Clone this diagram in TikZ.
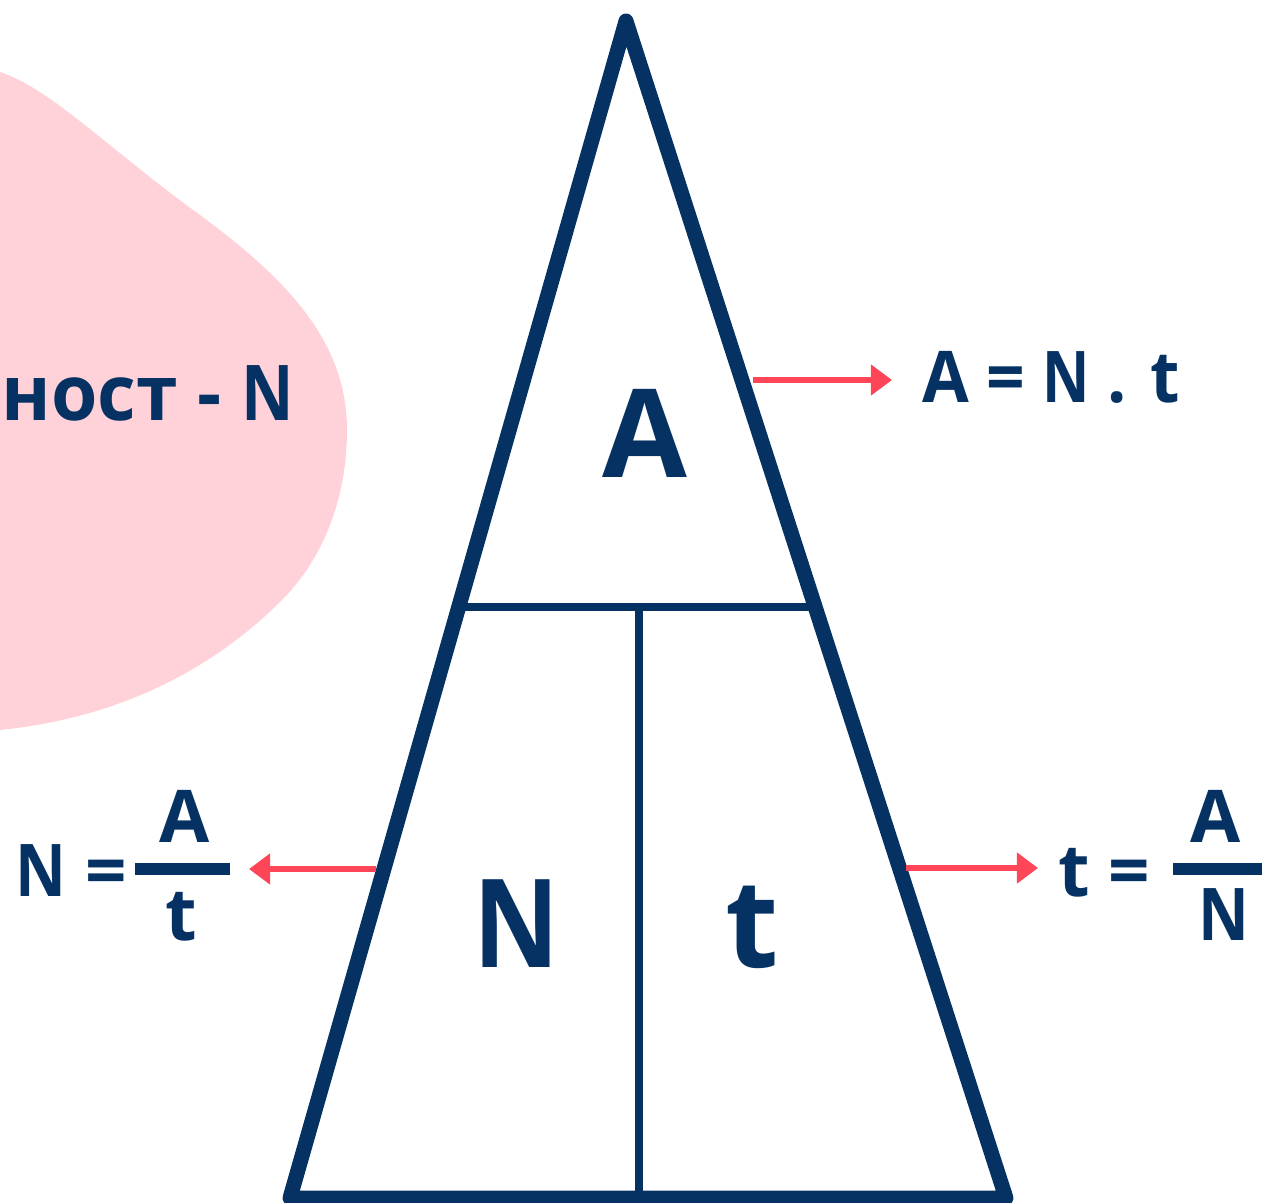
\documentclass[tikz,border=0pt]{standalone}
\usepackage{fontspec}
\usepackage{graphicx}
\setmainfont{Open Sans}[Language=Bulgarian]
\usetikzlibrary{arrows.meta}
\definecolor{navy}{HTML}{053263}
\definecolor{blush}{HTML}{FFD2D9}
\definecolor{coral}{HTML}{FF4558}
\newcommand\narrowN{\scalebox{0.86}[1]{N}}
\begin{document}
\begin{tikzpicture}[x=0.02cm,y=-0.02cm,
  edge/.style={draw=navy, line width=8.5pt, line join=round, line cap=round},
  divider/.style={draw=navy, line width=5pt},
  pointer/.style={draw=coral, line width=3.4pt, -{Triangle[length=12pt,width=17pt]}},
  lbl/.style={text=navy, inner sep=0pt, font=\bfseries\fontsize{40.6}{40.6}\selectfont},
  fraclbl/.style={text=navy, inner sep=0pt, font=\bfseries\fontsize{41.4}{41.4}\selectfont},
  biglbl/.style={text=navy, inner sep=0pt, font=\bfseries\fontsize{70}{70}\selectfont},
  barline/.style={fill=navy, draw=none}]
\useasboundingbox (0,0) rectangle (1262,1203);
\clip (0,0) rectangle (1262,1203);
% pink blob
\fill[blush] (-20,60) -- (0,72) .. controls (50,88) and (110,150) .. (200,215)
  .. controls (285,278) and (347,340) .. (347,430)
  .. controls (347,500) and (322,560) .. (282,600)
  .. controls (200,682) and (100,720) .. (0,730) -- (-20,735) -- cycle;
\node[text=navy, inner sep=0pt, font=\bfseries\fontsize{43.8}{43.8}\selectfont, anchor=base east] (power) at (294,420) {\scalebox{0.975}[1]{ност - \narrowN}};
% triangle
\coordinate (apex) at (626,21);
\coordinate (bl) at (290,1198);
\coordinate (br) at (1006,1198);
\coordinate (hl) at (459,607);
\coordinate (hr) at (813,607);
\coordinate (vt) at (639,607);
\coordinate (vb) at (639,1198);
\draw[divider] (hl) -- (hr);
\draw[divider] (vt) -- (vb);
\draw[edge] (apex) -- (bl) -- (br) -- cycle;
% letters
\node[biglbl, anchor=base] (bigA) at (645,477) {A};
\node[biglbl, anchor=base] (bigN) at (516,967) {\narrowN};
\node[biglbl, anchor=base] (bigt) at (752,967) {t};
% top right formula
\coordinate (pa1) at (753,380);
\coordinate (pa2) at (892,380);
\draw[pointer] (pa1) -- (pa2);
\node[lbl, anchor=base west] (fA) at (922,402) {\scalebox{0.95}[1]{A = \narrowN\ . t}};
% left formula
\coordinate (pl1) at (376,869);
\coordinate (pl2) at (249,869);
\draw[pointer] (pl1) -- (pl2);
\node[fraclbl, anchor=base west] (fNeq) at (15,896) {\narrowN\ =};
\fill[barline] (135,863) rectangle (230,875);
\node[fraclbl, anchor=base] (fNnum) at (185,842) {A};
\node[fraclbl, anchor=base] (fNden) at (181,940) {t};
% right formula
\coordinate (pr1) at (906,868);
\coordinate (pr2) at (1038,868);
\draw[pointer] (pr1) -- (pr2);
\node[fraclbl, anchor=base west] (fteq) at (1058,896) {t =};
\fill[barline] (1173,863) rectangle (1265,875);
\node[fraclbl, anchor=base] (ftnum) at (1216,842) {A};
\node[fraclbl, anchor=base] (ftden) at (1224,940) {\narrowN};
\end{tikzpicture}
\end{document}
